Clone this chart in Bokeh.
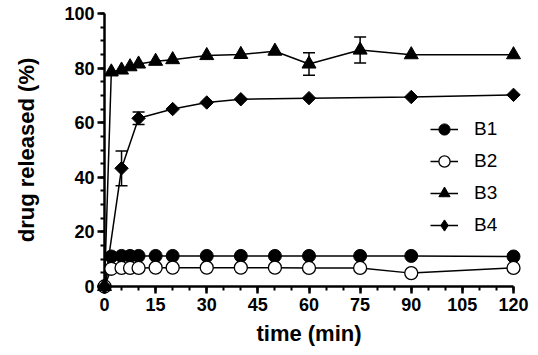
import numpy as np
from bokeh.plotting import figure
from bokeh.models import (Range1d, FixedTicker, Legend, LegendItem, Whisker,
                          ColumnDataSource)
from bokeh.embed import file_html
from bokeh.resources import INLINE

# ---- data ----
t_b1 = [0, 2, 5, 7.5, 10, 15, 20, 30, 40, 50, 60, 75, 90, 120]
b1 = [0, 11.0, 11.2, 11.2, 11.2, 11.2, 11.2, 11.2, 11.2, 11.2, 11.2, 11.2, 11.2, 11.0]

t_b2 = [0, 2, 5, 7.5, 10, 15, 20, 30, 40, 50, 60, 75, 90, 120]
b2 = [0, 6.5, 6.8, 6.8, 6.8, 6.9, 6.9, 6.9, 6.9, 6.9, 6.8, 6.8, 4.9, 6.8]

t_b3 = [0, 2, 5, 7.5, 10, 15, 20, 30, 40, 50, 60, 75, 90, 120]
b3 = [0, 78.6, 79.3, 80.5, 81.5, 82.5, 83.1, 84.6, 85.0, 86.2, 81.5, 86.6, 84.9, 84.9]
b3_err = [0, 0, 0, 0, 0, 0, 0, 0, 0, 0, 4.1, 4.75, 0, 0]

t_b4 = [0, 5, 10, 20, 30, 40, 60, 90, 120]
b4 = [0, 43.3, 61.6, 65.0, 67.4, 68.6, 69.0, 69.4, 70.2]
b4_err = [0, 6.35, 2.3, 0, 0, 0, 0, 0, 0]

x_ticks = [0, 15, 30, 45, 60, 75, 90, 105, 120]
y_ticks = [0, 20, 40, 60, 80, 100]

FONT = "Liberation Sans"

p = figure(width=538, height=355, output_backend="svg", toolbar_location=None,
           x_range=Range1d(0, 120), y_range=Range1d(0, 100),
           min_border_left=104, min_border_right=25, min_border_top=13,
           min_border_bottom=69)
p.outline_line_color = None
p.xgrid.visible = False
p.ygrid.visible = False
p.background_fill_color = "white"
p.border_fill_color = "white"

for ax in (p.xaxis[0], p.yaxis[0]):
    ax.axis_line_width = 2.5
    ax.axis_line_color = "black"
    ax.major_tick_line_width = 2.5
    ax.minor_tick_line_width = 2
    ax.major_tick_in = 0
    ax.major_tick_out = 7
    ax.minor_tick_in = 0
    ax.minor_tick_out = 4
    ax.major_label_text_font = FONT
    ax.major_label_text_font_style = "bold"
    ax.major_label_text_font_size = "18px"
    ax.major_label_text_color = "black"
    ax.axis_label_text_font = FONT
    ax.axis_label_text_font_style = "bold"
    ax.axis_label_text_font_size = "22px"
    ax.axis_label_text_color = "black"

p.xaxis.ticker = FixedTicker(ticks=x_ticks, minor_ticks=list(range(0, 121, 5)))
p.yaxis.ticker = FixedTicker(ticks=y_ticks, minor_ticks=list(range(0, 101, 5)))
p.xaxis.axis_label = "time (min)"
p.yaxis.axis_label = "drug released (%)"
p.xaxis.major_label_standoff = 4
p.yaxis.major_label_standoff = 3
p.xaxis.axis_label_standoff = 7
p.yaxis.axis_label_standoff = 22

LW = 1.5
items = []

# B1
l1 = p.line(t_b1, b1, line_color="black", line_width=LW)
m1 = p.scatter(t_b1, b1, marker="circle", size=13, fill_color="black",
               line_color="black", level="overlay")
items.append(LegendItem(label="B1", renderers=[l1, m1]))

# B2
l2 = p.line(t_b2, b2, line_color="black", line_width=LW)
m2 = p.scatter(t_b2, b2, marker="circle", size=13, fill_color="white",
               line_color="black", line_width=1.3, level="overlay")
items.append(LegendItem(label="B2", renderers=[l2, m2]))

# B3
l3 = p.line(t_b3, b3, line_color="black", line_width=LW)
e3 = [(t, v, e) for t, v, e in zip(t_b3, b3, b3_err) if e > 0]
s3 = ColumnDataSource(dict(x=[a[0] for a in e3],
                           lo=[a[1] - a[2] for a in e3],
                           hi=[a[1] + a[2] for a in e3]))
w3 = Whisker(source=s3, base="x", lower="lo", upper="hi", line_width=1.5,
             line_color="black")
for h in (w3.upper_head, w3.lower_head):
    h.size = 12
    h.line_width = 1.5
p.add_layout(w3)
m3 = p.scatter(t_b3, b3, marker="triangle", size=14, fill_color="black",
               line_color="black", level="overlay")
items.append(LegendItem(label="B3", renderers=[l3, m3]))

# B4
l4 = p.line(t_b4, b4, line_color="black", line_width=LW)
e4 = [(t, v, e) for t, v, e in zip(t_b4, b4, b4_err) if e > 0]
s4 = ColumnDataSource(dict(x=[a[0] for a in e4],
                           lo=[a[1] - a[2] for a in e4],
                           hi=[a[1] + a[2] for a in e4]))
w4 = Whisker(source=s4, base="x", lower="lo", upper="hi", line_width=1.5,
             line_color="black")
for h in (w4.upper_head, w4.lower_head):
    h.size = 12
    h.line_width = 1.5
p.add_layout(w4)
m4 = p.scatter(t_b4, b4, marker="square", size=9.5, angle=np.pi / 4,
               fill_color="black", line_color="black", level="overlay")
# legend-only diamond glyph (no visible data point)
m4_leg = p.scatter([np.nan], [np.nan], marker="diamond", size=14,
                   fill_color="black", line_color="black")
items.append(LegendItem(label="B4", renderers=[l4, m4_leg]))

legend = Legend(items=items, location=(326, 45), padding=0, margin=0,
                border_line_color=None, background_fill_alpha=0,
                glyph_width=28, glyph_height=32, label_height=32,
                label_standoff=16, spacing=0,
                label_text_font=FONT, label_text_font_size="19px",
                label_text_color="black")
p.add_layout(legend, "center")

open("out.html", "w").write(file_html(p, INLINE))
